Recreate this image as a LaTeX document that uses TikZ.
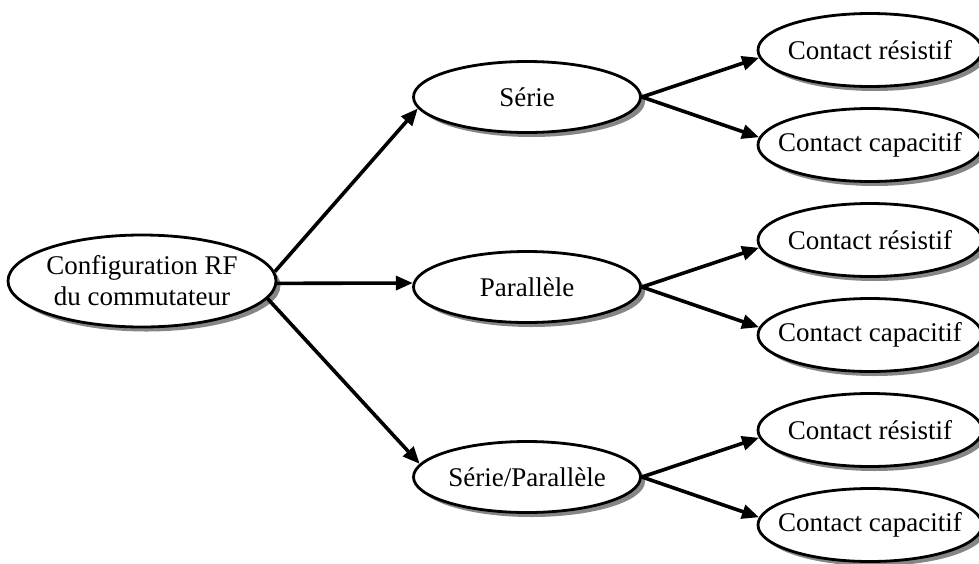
\documentclass[tikz,border=0pt]{standalone}
\usepackage{fontspec}
\setmainfont{Liberation Serif}
\usetikzlibrary{shapes.geometric,shadows,arrows.meta}

\tikzset{
  % fixed-size ovals: the negative xsep lets the minimum size govern
  oval/.style={ellipse, draw=black, line width=2.8pt, fill=white,
    inner ysep=0pt, inner xsep=-100pt, align=center,
    font=\fontsize{27}{31}\selectfont,
    drop shadow={shadow xshift=4.5pt, shadow yshift=-4.5pt, fill=gray!95, opacity=1}},
  rootoval/.style={oval, minimum width=268pt, minimum height=92pt},
  midoval/.style={oval, minimum width=227pt, minimum height=71pt},
  leafoval/.style={oval, minimum width=224pt, minimum height=73pt},
  link/.style={line width=3.6pt, -{Triangle[length=17pt,width=14pt]}}
}

\begin{document}
\begin{tikzpicture}[x=1pt,y=-1pt]
  \useasboundingbox (0,0) rectangle (979,563);
  \clip (0,0) rectangle (979,563);

  % root of the tree
  \node[rootoval] (cfg) at (142,281) {Configuration RF\\du commutateur};

  % switch configurations
  \node[midoval] (ser) at (527,97)  {Série};
  \node[midoval] (par) at (527,287) {Parallèle};
  \node[midoval] (sp)  at (527,477) {Série/Parallèle};

  % contact types
  \node[leafoval] (ser-r) at (870,50)  {Contact résistif};
  \node[leafoval] (ser-c) at (870,145) {Contact capacitif};
  \node[leafoval] (par-r) at (870,240) {Contact résistif};
  \node[leafoval] (par-c) at (870,335) {Contact capacitif};
  \node[leafoval] (sp-r)  at (870,430) {Contact résistif};
  \node[leafoval] (sp-c)  at (870,525) {Contact capacitif};

  % connectors
  \draw[link] (cfg.4)  -- (ser.186);
  \draw[link] (cfg.-1) -- (par.178);
  \draw[link] (cfg.-8) -- (sp.173);
  \foreach \m in {ser,par,sp}{
    \draw[link] (\m.east) -- (\m-r.184);
    \draw[link] (\m.east) -- (\m-c.176);
  }
\end{tikzpicture}
\end{document}
